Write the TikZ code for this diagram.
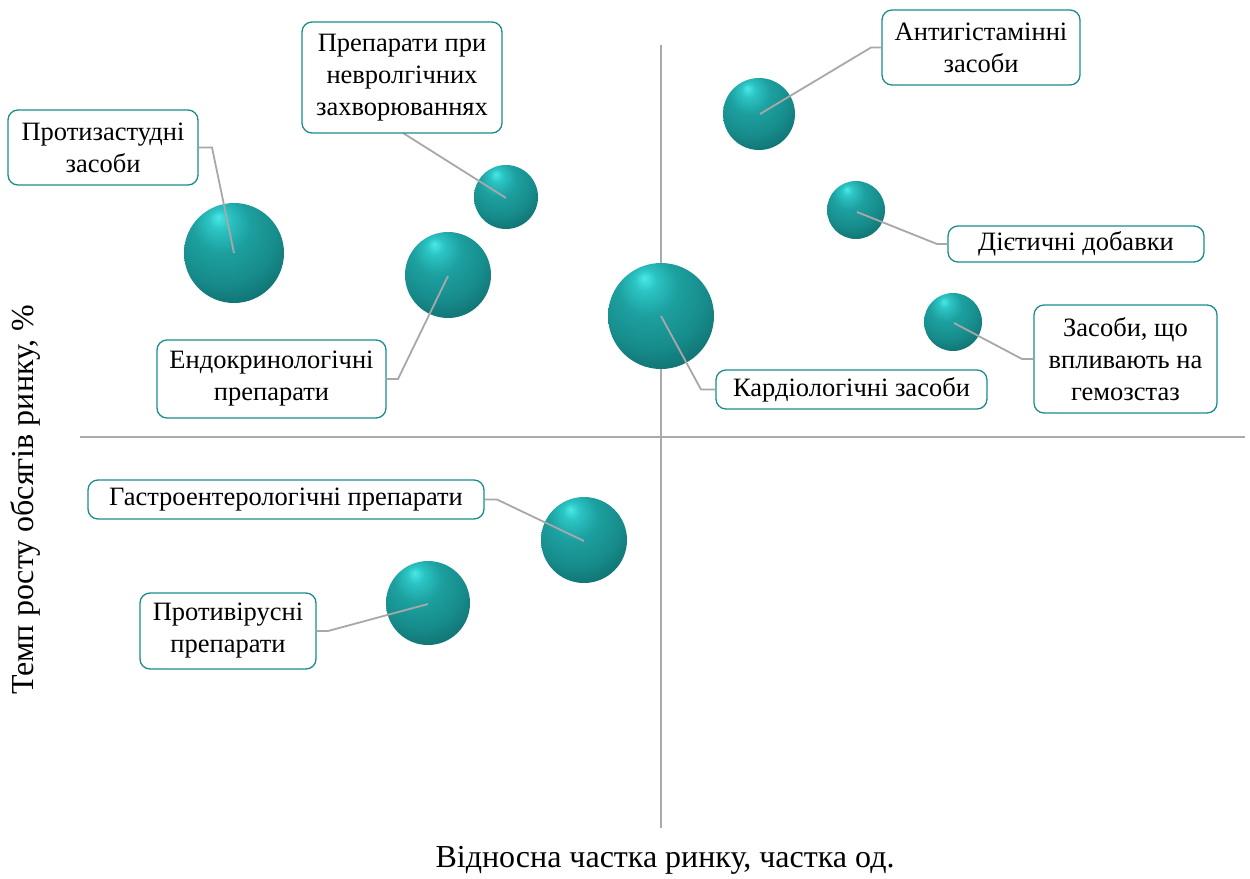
\documentclass[tikz,border=0pt]{standalone}
\usepackage{fontspec}
\setmainfont{Liberation Serif}
\definecolor{hlc}{HTML}{4AE8E8}
\definecolor{c1}{HTML}{2CC4C4}
\definecolor{c2}{HTML}{1DA0A0}
\definecolor{c3}{HTML}{178C8C}
\definecolor{c4}{HTML}{106C6C}
\definecolor{c5}{HTML}{094848}
\definecolor{c6}{HTML}{053434}
\definecolor{boxc}{HTML}{1A8C8C}
\definecolor{leadc}{HTML}{A8A8A8}
\definecolor{axc}{HTML}{AAAAAA}
\pgfdeclareradialshading{tealball}{\pgfpoint{-8bp}{18bp}}{color(0bp)=(hlc); color(5bp)=(c1); color(14bp)=(c2); color(26bp)=(c3); color(38bp)=(c4); color(48bp)=(c5); color(56bp)=(c6); color(70bp)=(c6)}
\begin{document}
\begin{tikzpicture}[x=1pt,y=-1pt,
  ballnode/.style={circle,inner sep=0pt,draw=none,shading=tealball},
  lbl/.style={draw=boxc,line width=1.3pt,rounded corners=10pt,fill=white,align=center,inner sep=0pt,font=\fontsize{26.5}{32}\selectfont},
  leader/.style={draw=leadc,line width=1.8pt},
  axisline/.style={draw=axc,line width=1.3pt},
  axtitle/.style={font=\fontsize{32}{36}\selectfont,inner sep=0pt}]
\useasboundingbox (0,0) rectangle (1250,878);
\fill[white] (0,0) rectangle (1250,878);
% axes
\coordinate (vt) at (661,45);
\coordinate (vb) at (661,828);
\coordinate (hl) at (80,437);
\coordinate (hr) at (1245,437);
\draw[axisline] (vt) -- (vb);
\draw[axisline] (hl) -- (hr);
% balls
\node[ballnode,minimum size=100pt] (b1) at (234,253) {};
\node[ballnode,minimum size=64pt] (b2) at (506,197) {};
\node[ballnode,minimum size=86pt] (b3) at (448,275) {};
\node[ballnode,minimum size=106pt] (b4) at (661,316) {};
\node[ballnode,minimum size=72pt] (b5) at (759,114) {};
\node[ballnode,minimum size=58pt] (b6) at (856,210) {};
\node[ballnode,minimum size=58pt] (b7) at (953,322) {};
\node[ballnode,minimum size=86pt] (b8) at (584,540) {};
\node[ballnode,minimum size=84pt] (b9) at (428,603) {};
% leader points
\coordinate (p1) at (234,253); \coordinate (e1) at (212,147.5);
\coordinate (p2) at (506,198); \coordinate (e2) at (403,133);
\coordinate (p3) at (448,276); \coordinate (e3) at (398,379);
\coordinate (p4) at (661,316); \coordinate (e4) at (701,389.5);
\coordinate (p5) at (760,114); \coordinate (e5) at (871,47.5);
\coordinate (p6) at (857,212); \coordinate (e6) at (937,244);
\coordinate (p7) at (954,323); \coordinate (e7) at (1022,359);
\coordinate (p8) at (584,541); \coordinate (e8) at (497,499.5);
\coordinate (p9) at (428,604); \coordinate (e9) at (328,631);
% label boxes
\node[lbl,minimum width=190pt,minimum height=75pt] (t1) at (103,147.5) {Протизастудні\\засоби};
\node[lbl,minimum width=229pt,minimum height=78pt] (t3) at (271.5,379) {Ендокринологічні\\препарати};
\node[lbl,minimum width=271pt,minimum height=39pt] (t4) at (851.5,389.5) {Кардіологічні засоби};
\node[lbl,minimum width=198pt,minimum height=75pt] (t5) at (981,47.5) {Антигістамінні\\засоби};
\node[lbl,minimum width=256pt,minimum height=36pt] (t6) at (1076,244) {Дієтичні добавки};
\node[lbl,minimum width=183pt,minimum height=108pt] (t7) at (1125.5,359) {Засоби, що\\впливають на\\гемозстаз};
\node[lbl,minimum width=396pt,minimum height=39pt] (t8) at (286,499.5) {Гастроентерологічні препарати};
\node[lbl,minimum width=176pt,minimum height=76pt] (t9) at (228,631) {Противірусні\\препарати};
% leaders
\draw[leader] (p1) -- (e1) -- (t1.east);
\draw[leader] (p2) -- (e2);
\draw[leader] (p3) -- (e3) -- (t3.east);
\draw[leader] (p4) -- (e4) -- (t4.west);
\draw[leader] (p5) -- (e5) -- (t5.west);
\draw[leader] (p6) -- (e6) -- (t6.west);
\draw[leader] (p7) -- (e7) -- (t7.west);
\draw[leader] (p8) -- (e8) -- (t8.east);
\draw[leader] (p9) -- (e9) -- (t9.east);
\node[lbl,minimum width=200pt,minimum height=111pt] (t2) at (402,77.5) {Препарати при\\невролгічних\\захворюваннях};
% axis titles
\node[axtitle] (xt) at (665,860) {Відносна частка ринку, частка од.};
\node[axtitle,rotate=90] (yt) at (25,500) {Темп росту обсягів ринку, \%};
\end{tikzpicture}
\end{document}
